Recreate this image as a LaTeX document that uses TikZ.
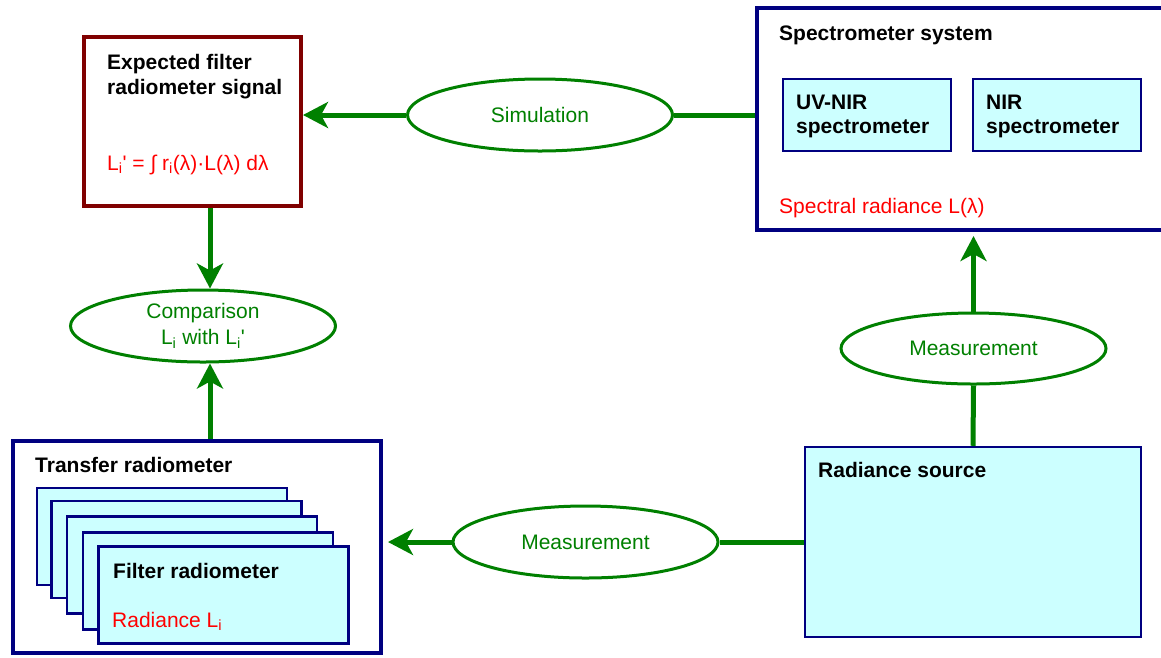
\documentclass[tikz,border=0pt]{standalone}
\usepackage{fontspec}
\newfontfamily\af{Liberation Sans}
\usetikzlibrary{shapes.geometric,arrows.meta}
\definecolor{dred}{HTML}{800000}
\definecolor{navy}{HTML}{000080}
\definecolor{lcyan}{HTML}{CCFFFF}
\definecolor{dgreen}{HTML}{008000}
\definecolor{tred}{HTML}{FF0000}
\begin{document}
\begin{tikzpicture}[x=1pt,y=-1pt,
  font=\af\fontsize{21}{25}\selectfont,
  bigbox/.style={draw=navy, line width=4pt, fill=white, inner sep=0pt},
  redbox/.style={draw=dred, line width=4pt, fill=white, inner sep=0pt},
  thinbox/.style={draw=navy, line width=2.5pt, fill=lcyan, inner sep=0pt},
  oval/.style={ellipse, draw=dgreen, line width=3pt, text=dgreen, fill=white, inner sep=0pt,
               minimum width=265pt, minimum height=72pt, align=center},
  arr/.style={draw=dgreen, line width=5pt, -{Stealth[length=25pt,width=26pt,inset=7pt]}},
  conn/.style={draw=dgreen, line width=5pt},
  title/.style={anchor=base west, inner sep=0pt, font=\af\fontsize{21}{25}\selectfont\bfseries},
  redtxt/.style={anchor=base west, inner sep=0pt, text=tred}
]
\clip (0,0) rectangle (1161,657);
\fill[white] (0,0) rectangle (1161,657);

% boxes
\node[redbox, minimum width=217pt, minimum height=169pt] (exp) at (192.5,121.5) {};
\node[bigbox, minimum width=418pt, minimum height=222pt] (spec) at (966,119) {};
\node[thinbox, minimum width=168pt, minimum height=72pt] (uvnir) at (867,115) {};
\node[thinbox, minimum width=168pt, minimum height=72pt] (nir) at (1057,115) {};
\node[thinbox, minimum width=336pt, minimum height=190pt] (rs) at (973,542) {};
\node[bigbox, minimum width=368pt, minimum height=212pt] (tr) at (197,547) {};
\node[thinbox, minimum width=250pt, minimum height=97pt] (f1) at (162,536.5) {};
\node[thinbox, minimum width=250pt, minimum height=97pt] (f2) at (176.5,549.5) {};
\node[thinbox, minimum width=250pt, minimum height=97pt] (f3) at (192,565) {};
\node[thinbox, minimum width=250pt, minimum height=97pt] (f4) at (208,581) {};
\node[thinbox, minimum width=250pt, minimum height=97pt] (f5) at (223.5,595) {};

% ovals
\node[oval] (sim) at (540,115) {Simulation};
\node[oval] (comp) at (203,326) {Comparison\\[1pt]L\textsubscript{i} with L\textsubscript{i}'};
\node[oval, minimum height=71pt] (meas1) at (973.5,348.5) {Measurement};
\node[oval] (meas2) at (585.5,542) {Measurement};

% texts
\node[title] (t1) at (107,69) {Expected filter};
\node[title] (t2) at (107,94) {radiometer signal};
\node[redtxt] (t3) at (107,170) {L\textsubscript{i}' = ∫ r\textsubscript{i}(λ)·L(λ) dλ};
\node[title] (t4) at (779,40) {Spectrometer system};
\node[title] (t5) at (796,109) {UV-NIR};
\node[title] (t6) at (796,133) {spectrometer};
\node[title] (t7) at (986,109) {NIR};
\node[title] (t8) at (986,133) {spectrometer};
\node[redtxt] (t9) at (779,213) {Spectral radiance L(λ)};
\node[title] (t10) at (818,477) {Radiance source};
\node[title] (t11) at (35,472) {Transfer radiometer};
\node[title] (t12) at (113,578) {Filter radiometer};
\node[redtxt] (t13) at (112,627) {Radiance L\textsubscript{i}};

% connectors
\coordinate (ax) at (210,0);
\draw[arr] (sim.west) -- (sim.west -| exp.east);
\draw[conn] (sim.east) -- (sim.east -| spec.west);
\draw[arr] (exp.south -| ax) -- (comp.north -| ax);
\draw[arr] (tr.north -| ax) -- (comp.south -| ax);
\draw[conn] (rs.north) -- (meas1.south);
\draw[arr, shorten >=4pt] (meas1.north) -- (meas1.north |- spec.south);
\draw[conn] (rs.west) -- (meas2.east);
\draw[arr, shorten >=5pt] (meas2.west) -- (meas2.west -| tr.east);
\end{tikzpicture}
\end{document}
